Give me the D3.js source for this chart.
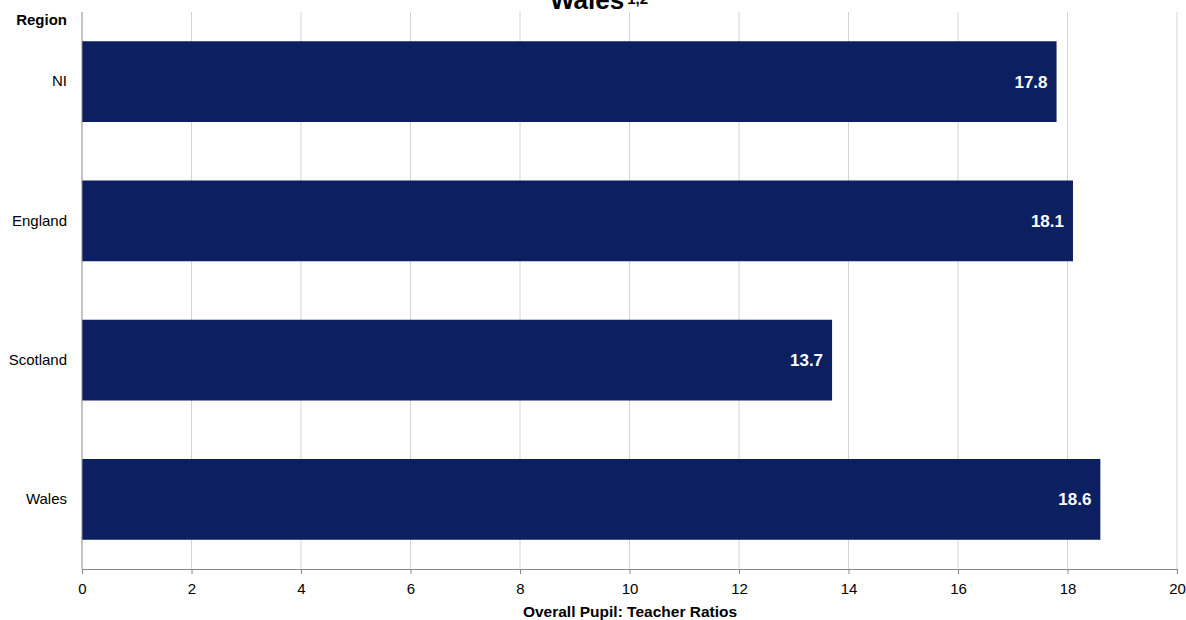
<!DOCTYPE html>
<html>
<head>
<meta charset="utf-8">
<script src="https://cdn.jsdelivr.net/npm/d3@7/dist/d3.min.js"></script>
<style>
  body { margin: 0; background: #fff; }
  svg text { font-family: "Liberation Sans", Arial, sans-serif; fill: #000; }
</style>
</head>
<body>
<svg id="chart" width="1186" height="620"></svg>
<script>
(function () {
  'use strict';

  /* Données */
  var regions = ['NI', 'England', 'Scotland', 'Wales'];
  var ratios  = [17.8, 18.1, 13.7, 18.6];
  var xTicks  = [0, 2, 4, 6, 8, 10, 12, 14, 16, 18, 20];

  var left = 82, right = 1177, top = 12, bottom = 569;
  var svg = d3.select('#chart');

  var x = d3.scaleLinear().domain([0, 20]).range([left, right]);
  var y = d3.scaleBand().domain(regions).range([top, bottom])
    .paddingInner(0.42).paddingOuter(0.21);

  /* Grille verticale */
  svg.append('g').selectAll('line')
    .data(xTicks.slice(1))
    .enter().append('line')
    .attr('x1', function (d) { return x(d); })
    .attr('x2', function (d) { return x(d); })
    .attr('y1', top).attr('y2', bottom)
    .attr('stroke', '#d4d4d4').attr('stroke-width', 1);

  /* Barres */
  svg.append('g').selectAll('rect')
    .data(regions)
    .enter().append('rect')
    .attr('x', x(0))
    .attr('y', function (d) { return y(d); })
    .attr('width', function (d, i) { return x(ratios[i]) - x(0); })
    .attr('height', y.bandwidth())
    .attr('fill', '#0c1f60');

  /* Étiquettes de valeurs */
  svg.append('g').selectAll('text')
    .data(regions)
    .enter().append('text')
    .attr('x', function (d, i) { return x(ratios[i]) - 9; })
    .attr('y', function (d) { return y(d) + y.bandwidth() / 2; })
    .attr('dy', '0.36em')
    .attr('text-anchor', 'end')
    .style('font-size', '17px').style('font-weight', 'bold').style('fill', '#fff')
    .text(function (d, i) { return ratios[i].toFixed(1); });

  /* Axe X */
  var xAxis = svg.append('g')
    .attr('transform', 'translate(0,' + bottom + ')')
    .call(d3.axisBottom(x).tickValues(xTicks).tickSize(5).tickPadding(9).tickFormat(d3.format('d')));
  xAxis.select('.domain').attr('stroke', '#888');
  xAxis.selectAll('.tick line').attr('stroke', '#888');
  xAxis.selectAll('.tick text').style('font-size', '15px');

  /* Axe Y */
  var yAxis = svg.append('g')
    .attr('transform', 'translate(' + left + ',0)')
    .call(d3.axisLeft(y).tickSize(0).tickPadding(15));
  yAxis.select('.domain').attr('stroke', '#888').attr('d', 'M0,' + top + 'V' + bottom);
  yAxis.selectAll('.tick text').style('font-size', '15px');

  /* Titres */
  var title = svg.append('text')
    .attr('x', 550).attr('y', 9)
    .attr('text-anchor', 'start')
    .style('font-size', '26px').style('font-weight', 'bold');
  title.append('tspan').text('Wales');
  title.append('tspan').attr('dx', '3').attr('dy', '-5').style('font-size', '15px').text('1,2');

  svg.append('text')
    .attr('x', 67).attr('y', 25)
    .attr('text-anchor', 'end')
    .style('font-size', '15px').style('font-weight', 'bold')
    .text('Region');

  svg.append('text')
    .attr('x', 630).attr('y', 617)
    .attr('text-anchor', 'middle')
    .style('font-size', '15.5px').style('font-weight', 'bold')
    .text('Overall Pupil: Teacher Ratios');
})();
</script>
</body>
</html>
